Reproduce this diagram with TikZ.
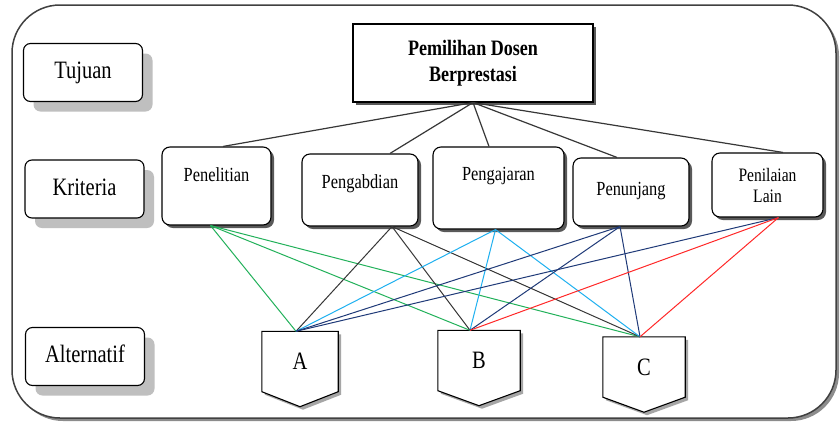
\documentclass[tikz,border=0pt]{standalone}
\usepackage{fontspec}
\setmainfont[FakeStretch=0.82]{Liberation Serif}
\usetikzlibrary{shadows,backgrounds}

% line colours
\definecolor{lgreen}{RGB}{34,177,90}
\definecolor{lcyan}{RGB}{30,176,240}
\definecolor{lnavy}{RGB}{31,58,120}
\definecolor{lgray}{RGB}{55,55,55}
\definecolor{lred}{RGB}{255,40,40}

\tikzset{
  frame/.style={draw=black!75, line width=1.5pt, fill=white, rounded corners=48pt,
    drop shadow={shadow xshift=3pt, shadow yshift=-3pt, fill=black!45, opacity=1}},
  level/.style={draw, fill=white, line width=1.1pt, rounded corners=7pt,
    minimum width=119pt, text height=35pt, text depth=23pt, inner ysep=0pt,
    font=\fontsize{25}{28}\selectfont,
    drop shadow={shadow xshift=10pt, shadow yshift=-10pt, fill=black!25, opacity=1}},
  goal/.style={draw, fill=white, line width=1.1pt, align=center,
    minimum width=240pt, minimum height=78pt,
    font=\bfseries\fontsize{22}{26}\selectfont,
    drop shadow={shadow xshift=3pt, shadow yshift=-3pt, fill=black!65, opacity=1}},
  crit/.style={draw, fill=white, line width=1.1pt, rounded corners=8pt, inner ysep=0pt,
    font=\fontsize{20}{21}\selectfont,
    drop shadow={shadow xshift=3pt, shadow yshift=-3pt, fill=black!65, opacity=1}},
  alt/.style={inner sep=0pt, minimum height=60pt, font=\fontsize{25}{28}\selectfont},
  altshape/.style={draw, fill=white, line width=1.1pt,
    drop shadow={shadow xshift=3pt, shadow yshift=-3pt, fill=black!35, opacity=1}},
  topline/.style={lgray, line width=1.2pt},
  link/.style={line width=1pt}
}

\begin{document}
\begin{tikzpicture}[x=1pt, y=-1pt]
	\useasboundingbox (0,0) rectangle (840,421);
	\def\tip{15} % depth of the point under A, B, C
	
	% levels on the left
	\node[level] (tujuan) at (83,72.5) {Tujuan};
	\node[level] (kriteria) at (84.5,189) {Kriteria};
	\node[level] (alternatif) at (85,356.5) {Alternatif};
	
	% goal
	\node[goal] (title) at (473,63) {Pemilihan Dosen\\Berprestasi};
	
	% criteria
	\node[crit, minimum width=109pt, text height=34pt, text depth=44pt] (k1) at (216.5,186) {Penelitian};
	\node[crit, minimum width=116pt, text height=34pt, text depth=38pt] (k2) at (360,190) {Pengabdian};
	\node[crit, minimum width=131pt, text height=33pt, text depth=49pt] (k3) at (498.5,188) {Pengajaran};
	\node[crit, minimum width=116pt, text height=37pt, text depth=31pt] (k4) at (631,192) {Penunjang};
	\node[crit, minimum width=111pt, minimum height=64pt, align=center,
	  font=\fontsize{19}{21}\selectfont] (k5) at (767.5,185) {Penilaian\\Lain};
	
	% alternatives
	\node[alt, minimum width=76pt] (A) at (300,361.5) {A};
	\node[alt, minimum width=82pt] (B) at (479,360.5) {B};
	\node[alt, minimum width=82pt] (C) at (644,367) {C};
	
	% frame and the pointed boxes go behind the text
	\begin{pgfonlayer}{background}
	\draw[frame] (12,5) rectangle (836,418);
	\foreach \n in {A,B,C}
	  \draw[altshape] (\n.north west) -- (\n.north east) -- (\n.south east)
	    -- ([yshift=-\tip pt]\n.south) -- (\n.south west) -- cycle;
	\end{pgfonlayer}
	
	% goal to criteria
	\foreach \k/\s in {k1/6.5,k2/30,k3/-9.5,k4/-14,k5/15.5}
	  \draw[topline] (title.south) -- ([xshift=\s pt]\k.north);
	
	% ends of the lower lines
	\coordinate (k1-out) at ([xshift=-6pt]k1.south);
	\coordinate (k2-out) at ([xshift=32pt]k2.south);
	\coordinate (k3-out) at ([xshift=-3pt]k3.south);
	\coordinate (k4-out) at ([xshift=-11pt]k4.south);
	\coordinate (k5-out) at ([xshift=11pt]k5.south);
	\coordinate (A-in) at ([xshift=-4pt]A.north);
	\coordinate (B-in) at ([xshift=-9pt]B.north);
	\coordinate (C-in) at ([xshift=-4pt]C.north);
	
	% criteria to alternatives
	\foreach \k/\a/\c in {k1/A/lgreen,k1/B/lgreen,k1/C/lgreen,
	                      k2/A/lgray,k2/B/lgray,k2/C/lgray,
	                      k3/A/lcyan,k3/B/lcyan,k3/C/lcyan,
	                      k4/A/lnavy,k4/B/lnavy,k4/C/lnavy,
	                      k5/A/lnavy,k5/B/lred,k5/C/lred}
	  \draw[link, \c] (\k-out) -- (\a-in);
\end{tikzpicture}
\end{document}
